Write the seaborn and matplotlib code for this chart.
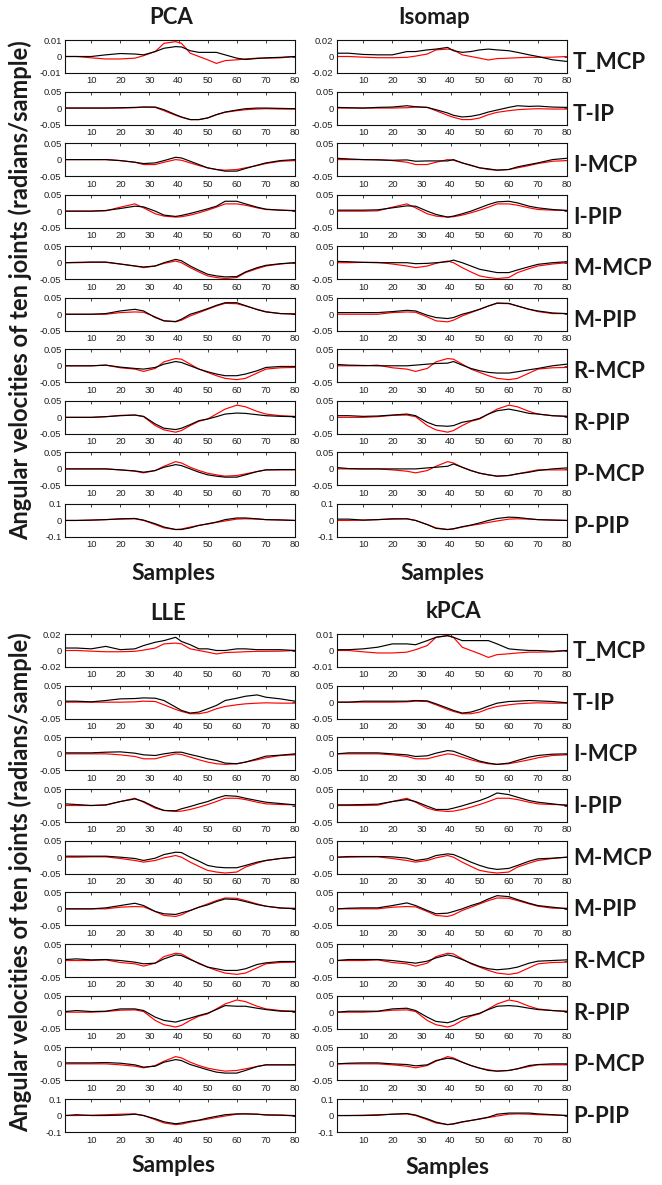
import matplotlib
matplotlib.use("Agg")
import matplotlib.pyplot as plt
import seaborn as sns
import pandas as pd

# ---------------- data ----------------
samples = [1, 5, 10, 15, 20, 25, 28, 32, 35, 39, 41, 44, 47, 50, 53, 56, 60, 63, 67, 70, 75, 80]
joints = ["T_MCP", "T-IP", "I-MCP", "I-PIP", "M-MCP", "M-PIP", "R-MCP", "R-PIP", "P-MCP", "P-PIP"]
methods = ["PCA", "Isomap", "LLE", "kPCA"]
xticks = [10, 20, 30, 40, 50, 60, 70, 80]
ylim_default = [0.05, 0.05, 0.05, 0.05, 0.05, 0.05, 0.05, 0.05, 0.05, 0.1]
ylim_first_row = {"PCA": 0.01, "Isomap": 0.02, "LLE": 0.02, "kPCA": 0.01}

# actual (red) angular velocities
actual_t_mcp = [0, 0, -0.0008, -0.0015, -0.0015, -0.001, 0.0005, 0.003, 0.008, 0.009, 0.008, 0.002, 0.0, -0.002, -0.0042, -0.0025, -0.002, -0.0015, -0.001, -0.001, -0.0008, 0]
actual_t_ip = [0, 0, 0, 0, 0, 0.001, 0.003, 0.002, -0.008, -0.022, -0.028, -0.035, -0.035, -0.03, -0.02, -0.013, -0.008, -0.005, -0.003, -0.002, -0.003, -0.003]
actual_i_mcp = [0, 0, 0, 0, -0.003, -0.008, -0.015, -0.015, -0.008, 0.0, -0.002, -0.01, -0.018, -0.025, -0.03, -0.032, -0.03, -0.025, -0.018, -0.012, -0.005, -0.003]
actual_i_pip = [0, 0, 0, 0.001, 0.012, 0.022, 0.01, -0.008, -0.015, -0.018, -0.017, -0.012, -0.005, 0.003, 0.012, 0.022, 0.022, 0.018, 0.01, 0.005, 0.003, 0.002]
actual_m_mcp = [0, 0, 0.001, 0.001, -0.004, -0.01, -0.015, -0.01, -0.002, 0.005, 0.0, -0.015, -0.028, -0.04, -0.045, -0.048, -0.045, -0.03, -0.018, -0.01, -0.004, 0]
actual_m_pip = [0, 0, 0, 0.0, 0.005, 0.007, 0.006, -0.008, -0.02, -0.023, -0.018, -0.005, 0.005, 0.015, 0.025, 0.033, 0.032, 0.025, 0.015, 0.008, 0.002, 0.002]
actual_r_mcp = [0, 0, 0, 0.002, -0.006, -0.01, -0.017, -0.008, 0.012, 0.022, 0.02, 0.005, -0.01, -0.02, -0.03, -0.038, -0.042, -0.038, -0.022, -0.01, -0.006, -0.005]
actual_r_pip = [0, 0, 0.0, 0.002, 0.006, 0.007, 0.002, -0.025, -0.038, -0.045, -0.04, -0.025, -0.012, -0.005, 0.01, 0.025, 0.037, 0.032, 0.018, 0.01, 0.005, 0.003]
actual_p_mcp = [0, 0, 0, 0.0, -0.003, -0.007, -0.012, -0.005, 0.008, 0.022, 0.018, 0.005, -0.005, -0.013, -0.018, -0.022, -0.02, -0.015, -0.008, -0.003, -0.003, -0.003]
actual_p_pip = [0, 0, 0.002, 0.005, 0.008, 0.01, 0.0, -0.025, -0.045, -0.055, -0.052, -0.04, -0.03, -0.022, -0.012, -0.003, 0.008, 0.01, 0.008, 0.005, 0.003, 0.0]

# PCA reconstruction (black)
pca_t_mcp = [0, 0, 0, 0.001, 0.0018, 0.0015, 0.001, 0.003, 0.005, 0.006, 0.0058, 0.0035, 0.0025, 0.0025, 0.0025, 0.001, -0.001, -0.0018, -0.0012, -0.0008, -0.0005, 0]
pca_t_ip = [0, 0, 0, 0, 0.001, 0.002, 0.003, 0.003, -0.005, -0.02, -0.027, -0.035, -0.035, -0.03, -0.02, -0.012, -0.006, -0.002, 0, 0, -0.001, -0.002]
pca_i_mcp = [0, 0, 0, 0, -0.003, -0.008, -0.012, -0.01, -0.003, 0.007, 0.005, -0.005, -0.015, -0.025, -0.03, -0.035, -0.035, -0.027, -0.017, -0.01, -0.003, 0]
pca_i_pip = [0, 0, 0, 0.002, 0.008, 0.015, 0.013, 0.0, -0.012, -0.016, -0.013, -0.007, 0.0, 0.007, 0.015, 0.03, 0.03, 0.022, 0.012, 0.006, 0.003, 0.001]
pca_m_mcp = [0, 0.001, 0.002, 0.002, -0.004, -0.01, -0.013, -0.01, 0.0, 0.01, 0.006, -0.01, -0.023, -0.035, -0.04, -0.043, -0.042, -0.028, -0.015, -0.008, -0.003, 0]
pca_m_pip = [0, 0, 0, 0.002, 0.01, 0.015, 0.01, -0.01, -0.02, -0.022, -0.015, 0.0, 0.008, 0.017, 0.027, 0.035, 0.035, 0.026, 0.014, 0.007, 0.002, 0]
pca_r_mcp = [0, 0, 0, 0.002, -0.004, -0.008, -0.01, -0.005, 0.005, 0.013, 0.01, 0.0, -0.01, -0.018, -0.025, -0.03, -0.03, -0.025, -0.015, -0.005, -0.002, -0.002]
pca_r_pip = [0, 0, 0, 0.002, 0.005, 0.007, 0.003, -0.02, -0.033, -0.037, -0.033, -0.022, -0.01, -0.005, 0.002, 0.01, 0.013, 0.012, 0.008, 0.005, 0.003, 0.002]
pca_p_mcp = [0, 0, 0, 0, -0.003, -0.006, -0.01, -0.005, 0.005, 0.013, 0.01, 0.0, -0.01, -0.018, -0.022, -0.025, -0.025, -0.018, -0.008, -0.003, -0.002, -0.002]
pca_p_pip = [0, 0, 0.002, 0.005, 0.01, 0.012, 0.002, -0.02, -0.04, -0.055, -0.055, -0.045, -0.03, -0.02, -0.01, 0.005, 0.015, 0.015, 0.01, 0.005, 0.003, 0.0]

# Isomap reconstruction (black)
isomap_t_mcp = [0.004, 0.004, 0.0025, 0.002, 0.002, 0.006, 0.006, 0.008, 0.009, 0.011, 0.007, 0.005, 0.006, 0.008, 0.009, 0.008, 0.007, 0.005, 0.002, 0.0, -0.004, -0.006]
isomap_t_ip = [0.002, 0.001, 0, 0.002, 0.003, 0.007, 0.004, 0.002, -0.005, -0.015, -0.022, -0.027, -0.025, -0.02, -0.012, -0.006, 0.002, 0.007, 0.005, 0.006, 0.003, 0.002]
isomap_i_mcp = [0.004, 0.002, 0.0, -0.001, -0.002, -0.001, -0.005, -0.004, -0.004, -0.004, 0.0, -0.01, -0.017, -0.025, -0.028, -0.032, -0.03, -0.022, -0.015, -0.01, 0.0, 0.004]
isomap_i_pip = [0.003, 0.003, 0.003, 0.004, 0.01, 0.016, 0.015, 0.0, -0.01, -0.018, -0.015, -0.008, 0.0, 0.01, 0.02, 0.028, 0.03, 0.025, 0.015, 0.01, 0.005, 0.002]
isomap_m_mcp = [0.004, 0.003, 0.001, 0.0, 0.0, 0.0, -0.003, -0.002, 0.0, 0.003, 0.008, 0.0, -0.01, -0.02, -0.025, -0.03, -0.03, -0.022, -0.012, -0.005, 0.0, 0.003]
isomap_m_pip = [0.005, 0.005, 0.005, 0.005, 0.008, 0.012, 0.01, -0.003, -0.01, -0.013, -0.01, 0.0, 0.007, 0.015, 0.025, 0.034, 0.033, 0.025, 0.015, 0.01, 0.004, 0.002]
isomap_r_mcp = [0.004, 0.002, 0.001, 0.0, 0.0, 0.0, 0.002, 0.005, 0.007, 0.008, 0.013, 0.002, -0.008, -0.015, -0.02, -0.022, -0.022, -0.018, -0.012, -0.008, 0.0, 0.005]
isomap_r_pip = [0.005, 0.005, 0.003, 0.004, 0.007, 0.01, 0.005, -0.015, -0.025, -0.027, -0.025, -0.015, -0.01, -0.003, 0.01, 0.02, 0.025, 0.02, 0.012, 0.01, 0.005, 0.003]
isomap_p_mcp = [0.004, 0.001, 0.0, 0.0, 0.0, 0.0, 0.0, 0.003, 0.005, 0.008, 0.015, 0.005, -0.005, -0.013, -0.018, -0.022, -0.02, -0.015, -0.01, -0.005, 0.0, 0.003]
isomap_p_pip = [0.008, 0.008, 0.002, 0.005, 0.01, 0.01, 0.0, -0.025, -0.048, -0.055, -0.05, -0.038, -0.028, -0.015, 0.0, 0.012, 0.02, 0.018, 0.01, 0.005, 0.002, 0.0]

# LLE reconstruction (black)
lle_t_mcp = [0.003, 0.003, 0.002, 0.005, 0.001, 0.002, 0.006, 0.01, 0.012, 0.016, 0.011, 0.007, 0.002, 0.002, 0.0, 0.0, 0.002, 0.002, 0.001, 0.001, 0.001, 0.0]
lle_t_ip = [0.003, 0.003, 0.001, 0.005, 0.01, 0.011, 0.013, 0.012, 0.005, -0.015, -0.025, -0.033, -0.03, -0.02, -0.01, 0.005, 0.012, 0.018, 0.022, 0.015, 0.01, 0.003]
lle_i_mcp = [0.003, 0.003, 0.003, 0.005, 0.006, 0.002, -0.003, -0.005, 0.0, 0.005, 0.005, -0.002, -0.008, -0.015, -0.02, -0.028, -0.03, -0.025, -0.015, -0.007, -0.004, 0]
lle_i_pip = [0.005, 0.003, 0, 0.002, 0.012, 0.02, 0.012, -0.005, -0.015, -0.016, -0.01, -0.003, 0.005, 0.012, 0.022, 0.03, 0.028, 0.022, 0.015, 0.01, 0.006, 0.002]
lle_m_mcp = [0.003, 0.003, 0.003, 0.003, 0.0, -0.004, -0.01, -0.003, 0.008, 0.015, 0.014, 0.0, -0.012, -0.025, -0.03, -0.032, -0.032, -0.025, -0.015, -0.01, -0.004, 0]
lle_m_pip = [0, 0, 0, 0.003, 0.01, 0.017, 0.01, -0.008, -0.015, -0.017, -0.012, -0.005, 0.005, 0.012, 0.022, 0.03, 0.028, 0.022, 0.013, 0.008, 0.003, 0]
lle_r_mcp = [0.003, 0.005, 0.002, 0.003, 0.0, -0.005, -0.01, -0.008, 0.005, 0.017, 0.015, 0.003, -0.008, -0.02, -0.025, -0.03, -0.03, -0.025, -0.012, -0.007, -0.003, -0.003]
lle_r_pip = [0.002, 0.005, 0.002, 0.003, 0.01, 0.01, 0.005, -0.015, -0.025, -0.03, -0.025, -0.018, -0.01, -0.003, 0.008, 0.02, 0.018, 0.018, 0.012, 0.008, 0.003, 0.002]
lle_p_mcp = [0.003, 0.003, 0.003, 0.004, 0.002, -0.003, -0.01, -0.007, 0.005, 0.013, 0.01, -0.002, -0.01, -0.018, -0.025, -0.028, -0.028, -0.02, -0.008, -0.003, -0.003, -0.003]
lle_p_pip = [0.0, 0.005, 0.0, 0.0, 0.002, 0.008, 0.0, -0.02, -0.038, -0.05, -0.045, -0.035, -0.028, -0.015, -0.005, 0.005, 0.01, 0.01, 0.008, 0.003, 0.002, -0.002]

# kPCA reconstruction (black)
kpca_t_mcp = [0.0005, 0.0005, 0.001, 0.002, 0.004, 0.004, 0.0035, 0.006, 0.008, 0.009, 0.008, 0.006, 0.006, 0.006, 0.006, 0.004, 0.001, 0.0005, 0.0, 0.0, -0.0005, 0.0]
kpca_t_ip = [0, 0, 0.003, 0.003, 0.003, 0.003, 0.005, 0.004, -0.005, -0.018, -0.025, -0.033, -0.03, -0.022, -0.012, -0.003, 0.002, 0.003, 0.005, 0.004, 0.002, -0.002]
kpca_i_mcp = [0, 0.003, 0.003, 0.003, 0.0, -0.003, -0.008, -0.006, 0.002, 0.01, 0.008, -0.002, -0.012, -0.022, -0.028, -0.032, -0.028, -0.02, -0.01, -0.005, -0.001, 0]
kpca_i_pip = [0.002, 0.002, 0.003, 0.004, 0.012, 0.018, 0.012, -0.002, -0.012, -0.012, -0.008, -0.001, 0.007, 0.015, 0.025, 0.038, 0.033, 0.025, 0.015, 0.01, 0.005, 0]
kpca_m_mcp = [0, 0.002, 0.002, 0.002, 0.001, -0.003, -0.01, -0.005, 0.005, 0.01, 0.008, -0.003, -0.015, -0.025, -0.033, -0.037, -0.034, -0.025, -0.012, -0.005, -0.003, 0]
kpca_m_pip = [0, 0.002, 0.003, 0.003, 0.01, 0.018, 0.01, -0.005, -0.015, -0.013, -0.008, 0.0, 0.01, 0.018, 0.03, 0.04, 0.037, 0.028, 0.017, 0.01, 0.005, 0]
kpca_r_mcp = [0, 0.003, 0.003, 0.003, 0.0, -0.005, -0.008, -0.002, 0.008, 0.017, 0.013, 0.003, -0.008, -0.018, -0.025, -0.028, -0.025, -0.02, -0.008, -0.002, 0.0, 0.002]
kpca_r_pip = [0, 0.003, 0.003, 0.003, 0.01, 0.012, 0.005, -0.015, -0.028, -0.032, -0.027, -0.015, -0.01, -0.003, 0.008, 0.018, 0.02, 0.018, 0.012, 0.008, 0.005, 0.002]
kpca_p_mcp = [0, 0.002, 0.003, 0.003, 0.0, -0.002, -0.006, -0.003, 0.01, 0.017, 0.015, 0.005, -0.005, -0.013, -0.02, -0.022, -0.02, -0.015, -0.005, -0.002, 0.0, 0.0]
kpca_p_pip = [0, 0.0, 0.0, 0.002, 0.008, 0.012, 0.003, -0.02, -0.04, -0.055, -0.05, -0.038, -0.03, -0.02, -0.01, 0.008, 0.015, 0.015, 0.015, 0.01, 0.005, 0.0]

actual = [actual_t_mcp, actual_t_ip, actual_i_mcp, actual_i_pip, actual_m_mcp,
          actual_m_pip, actual_r_mcp, actual_r_pip, actual_p_mcp, actual_p_pip]
recon = {
    "PCA": [pca_t_mcp, pca_t_ip, pca_i_mcp, pca_i_pip, pca_m_mcp, pca_m_pip, pca_r_mcp, pca_r_pip, pca_p_mcp, pca_p_pip],
    "Isomap": [isomap_t_mcp, isomap_t_ip, isomap_i_mcp, isomap_i_pip, isomap_m_mcp, isomap_m_pip, isomap_r_mcp, isomap_r_pip, isomap_p_mcp, isomap_p_pip],
    "LLE": [lle_t_mcp, lle_t_ip, lle_i_mcp, lle_i_pip, lle_m_mcp, lle_m_pip, lle_r_mcp, lle_r_pip, lle_p_mcp, lle_p_pip],
    "kPCA": [kpca_t_mcp, kpca_t_ip, kpca_i_mcp, kpca_i_pip, kpca_m_mcp, kpca_m_pip, kpca_r_mcp, kpca_r_pip, kpca_p_mcp, kpca_p_pip],
}

# ---------------- figure ----------------
sns.set_style("white")
plt.rcParams["font.family"] = ["Lato", "DejaVu Sans"]

W, H = 662, 1185
fig = plt.figure(figsize=(W / 100, H / 100), dpi=100)

def px_axes(left, top, width, height):
    return fig.add_axes([left / W, 1 - (top + height) / H, width / W, height / H])

col_left = {"PCA": 65, "Isomap": 337, "LLE": 65, "kPCA": 337}
block_top = {"PCA": 40, "Isomap": 40, "LLE": 634, "kPCA": 634}
row_step = {"PCA": 51.55, "Isomap": 51.55, "LLE": 51.67, "kPCA": 51.67}
ax_w, ax_h = 230, 33
tick_font = {"family": ["Liberation Sans", "DejaVu Sans"], "size": 6.8, "color": "#3a3a3a"}

for m in methods:
    for i, joint in enumerate(joints):
        top = block_top[m] + i * row_step[m]
        ax = px_axes(col_left[m], top, ax_w, ax_h)
        sns.lineplot(x=samples, y=actual[i], ax=ax, color="#ff0000", lw=0.85)
        sns.lineplot(x=samples, y=recon[m][i], ax=ax, color="black", lw=0.85)
        lim = ylim_first_row[m] if i == 0 else ylim_default[i]
        ax.set_xlim(1, 80)
        ax.set_ylim(-lim, lim)
        ax.set_xticks(xticks)
        ax.set_xticklabels([str(t) for t in xticks], fontdict=tick_font)
        yt = [-lim, 0, lim]
        ax.set_yticks(yt)
        ax.set_yticklabels([f"{v:g}" for v in yt], fontdict=tick_font)
        ax.tick_params(direction="in", length=2.2, width=0.6, pad=2.5,
                       top=True, right=True, colors="#222222")
        for s in ax.spines.values():
            s.set_linewidth(0.8)
            s.set_color("#111111")
        ax.set_xlabel("")
        ax.set_ylabel("")
        if m in ("Isomap", "kPCA"):
            dy = 6 if m == "Isomap" else 1
            fig.text(573 / W, 1 - (top + ax_h / 2 + dy) / H, joint,
                     fontsize=16, fontweight="bold", color="#1a1a1a",
                     ha="left", va="center")

title_pos = {"PCA": (171, 17), "Isomap": (434, 17), "LLE": (168, 613), "kPCA": (454, 612)}
for m, (x, y) in title_pos.items():
    fig.text(x / W, 1 - y / H, m, fontsize=16, fontweight="bold",
             color="#1a1a1a", ha="center", va="center")

for (x, y) in [(173, 574), (442, 574), (173, 1166), (447, 1168)]:
    fig.text(x / W, 1 - y / H, "Samples", fontsize=16.5, fontweight="bold",
             color="#1a1a1a", ha="center", va="center")

for y in [290, 882]:
    fig.text(20 / W, 1 - y / H, "Angular velocities of ten joints (radians/sample)",
             fontsize=17, fontweight="bold", color="#1a1a1a",
             rotation=90, ha="center", va="center")

fig.savefig("out.png", dpi=100)
